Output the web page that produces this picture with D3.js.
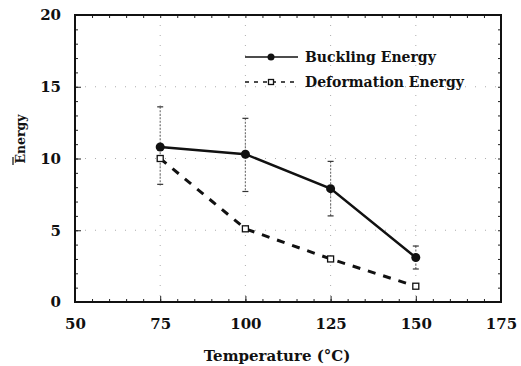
<!DOCTYPE html>
<html><head><meta charset="utf-8">
<script src="https://cdn.jsdelivr.net/npm/d3@7"></script>
<style>body{margin:0;background:#fff}svg{display:block}text{font-family:"DejaVu Serif","Liberation Serif",serif;font-weight:bold;fill:#111}</style>
</head><body><svg id="c" width="521" height="366"></svg>
<script>
const temps = [75, 100, 125, 150];
const buckling = [10.8, 10.3, 7.9, 3.1];
const bucklingHi = [13.6, 12.8, 9.8, 3.9];
const bucklingLo = [8.2, 7.7, 6.0, 2.3];
const deformation = [10.0, 5.1, 3.0, 1.1];
const xTicks = [50, 75, 100, 125, 150, 175];
const yTicks = [0, 5, 10, 15, 20];
const seriesNames = ["Buckling Energy", "Deformation Energy"];

const svg = d3.select("#c");
const m = {l: 75, t: 15, r: 501, b: 302};
const x = d3.scaleLinear().domain([50, 175]).range([m.l, m.r]);
const y = d3.scaleLinear().domain([0, 20]).range([m.b, m.t]);

// faint dotted grid
const g = svg.append("g").attr("stroke", "#999").attr("stroke-width", 0.8).attr("stroke-dasharray", "1,9");
g.selectAll("line.h").data(yTicks.slice(1, -1)).join("line")
  .attr("x1", m.l).attr("x2", m.r).attr("y1", d => y(d)).attr("y2", d => y(d));
g.selectAll("line.v").data(xTicks.slice(1, -1)).join("line")
  .attr("y1", m.t).attr("y2", m.b).attr("x1", d => x(d)).attr("x2", d => x(d));

// axes with inward ticks
const minorX = d3.range(50, 176, 5), minorY = d3.range(0, 21, 1);
svg.append("g").attr("transform", `translate(0,${m.b})`)
  .call(d3.axisBottom(x).tickValues(minorX).tickSize(-3).tickFormat(""));
svg.append("g").attr("transform", `translate(0,${m.b})`)
  .call(d3.axisBottom(x).tickValues(xTicks).tickSize(-6).tickPadding(16).tickFormat(d3.format("d")))
  .call(a => a.selectAll("text").attr("font-size", 15));
svg.append("g").attr("transform", `translate(0,${m.t})`)
  .call(d3.axisTop(x).tickValues(minorX).tickSize(-3).tickFormat(""));
svg.append("g").attr("transform", `translate(${m.l},0)`)
  .call(d3.axisLeft(y).tickValues(minorY).tickSize(-3).tickFormat(""));
svg.append("g").attr("transform", `translate(${m.l},0)`)
  .call(d3.axisLeft(y).tickValues(yTicks).tickSize(-6).tickPadding(14).tickFormat(d3.format("d")))
  .call(a => a.selectAll("text").attr("font-size", 15));
svg.append("g").attr("transform", `translate(${m.r},0)`)
  .call(d3.axisRight(y).tickValues(minorY).tickSize(-3).tickFormat(""));
svg.selectAll(".domain").remove();
svg.selectAll(".tick line").attr("stroke", "#222");
svg.append("rect").attr("x", m.l).attr("y", m.t).attr("width", m.r - m.l).attr("height", m.b - m.t)
  .attr("fill", "none").attr("stroke", "#111").attr("stroke-width", 2);

// error bars
const eb = svg.append("g").attr("stroke", "#777").attr("stroke-width", 1.2);
temps.forEach((t, i) => {
  eb.append("line").attr("x1", x(t)).attr("x2", x(t)).attr("y1", y(bucklingHi[i])).attr("y2", y(bucklingLo[i])).attr("stroke-dasharray", "2,1.5");
  [bucklingHi[i], bucklingLo[i]].forEach(v => eb.append("line").attr("x1", x(t) - 3).attr("x2", x(t) + 3).attr("y1", y(v)).attr("y2", y(v)).attr("stroke", "#333"));
});

// lines
const line = d3.line().x((d, i) => x(temps[i])).y(d => y(d));
svg.append("path").datum(deformation).attr("d", line).attr("fill", "none").attr("stroke", "#111").attr("stroke-width", 3).attr("stroke-dasharray", "8,8");
svg.append("path").datum(buckling).attr("d", line).attr("fill", "none").attr("stroke", "#111").attr("stroke-width", 2.5);
svg.selectAll("circle.b").data(buckling).join("circle")
  .attr("cx", (d, i) => x(temps[i])).attr("cy", d => y(d)).attr("r", 4.5).attr("fill", "#111");
svg.selectAll("rect.d").data(deformation).join("rect")
  .attr("x", (d, i) => x(temps[i]) - 3).attr("y", d => y(d) - 3).attr("width", 6).attr("height", 6)
  .attr("fill", "#fff").attr("stroke", "#111").attr("stroke-width", 1.3);

// legend
const lg = svg.append("g");
lg.append("line").attr("x1", 245).attr("x2", 298).attr("y1", 57).attr("y2", 57).attr("stroke", "#111").attr("stroke-width", 1.5);
lg.append("circle").attr("cx", 271).attr("cy", 57).attr("r", 3.5).attr("fill", "#111");
lg.append("text").attr("x", 305).attr("y", 62).attr("font-size", 14).text(seriesNames[0]);
lg.append("line").attr("x1", 245).attr("x2", 298).attr("y1", 82).attr("y2", 82).attr("stroke", "#111").attr("stroke-width", 1.5).attr("stroke-dasharray", "4,5");
lg.append("rect").attr("x", 268.5).attr("y", 79.5).attr("width", 5).attr("height", 5).attr("fill", "#fff").attr("stroke", "#111").attr("stroke-width", 1.3);
lg.append("text").attr("x", 305).attr("y", 87).attr("font-size", 14).text(seriesNames[1]);

// axis titles
svg.append("text").attr("x", 277).attr("y", 361).attr("text-anchor", "middle").attr("font-size", 15).text("Temperature (°C)");
svg.append("text").attr("transform", "translate(25,139) rotate(-90)").attr("text-anchor", "middle").attr("font-size", 12.5)
  .text("Energy");
svg.append("line").attr("x1", 13).attr("x2", 13).attr("y1", 157).attr("y2", 165).attr("stroke", "#111").attr("stroke-width", 1.2);
</script></body></html>
